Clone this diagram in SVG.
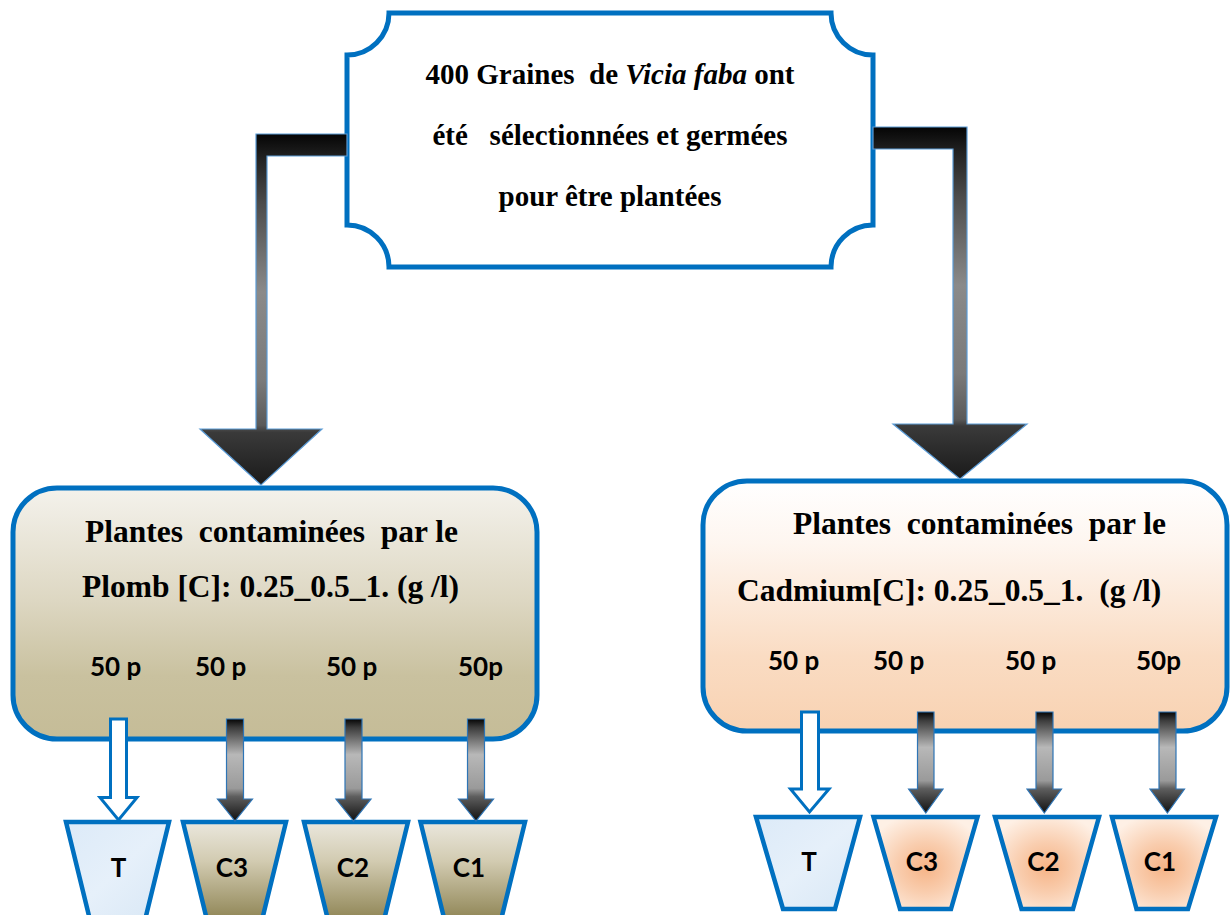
<svg xmlns="http://www.w3.org/2000/svg" width="1230" height="915" viewBox="0 0 1230 915">
<defs>
<style>
.serif{font-family:'Liberation Serif','DejaVu Serif',serif;font-weight:700;fill:#000}
.t1{font-size:29px}
.t2{font-size:31.5px}
.sans{font-family:Lato,'Open Sans',sans-serif;font-weight:700;font-size:26px;fill:#000}
.box{stroke:#0070C0;stroke-width:5}
.pot{stroke:#0070C0;stroke-width:4.5;stroke-linejoin:miter}
.big{stroke:#5B9BD5;stroke-width:1.2;fill:url(#gBig)}
.small{stroke:#2E75B6;stroke-width:1.2;fill:url(#gSmall)}
.hollow{fill:#fff;stroke:#0070C0;stroke-width:3}
</style>
<linearGradient id="gPb" x1="0" y1="0" x2="0" y2="1">
<stop offset="0" stop-color="#F4F2EC"/>
<stop offset="0.45" stop-color="#DDD7C2"/>
<stop offset="0.75" stop-color="#C9C19F"/>
<stop offset="1" stop-color="#C5BC97"/>
</linearGradient>
<linearGradient id="gCd" x1="0" y1="0" x2="0" y2="1">
<stop offset="0" stop-color="#FFFFFF"/>
<stop offset="0.25" stop-color="#FEF6F0"/>
<stop offset="0.7" stop-color="#FADCC3"/>
<stop offset="1" stop-color="#F8D2B2"/>
</linearGradient>
<linearGradient id="gPotPb" x1="0" y1="0" x2="0" y2="1">
<stop offset="0" stop-color="#EAE7DD"/>
<stop offset="0.4" stop-color="#D2CBB1"/>
<stop offset="1" stop-color="#8F8555"/>
</linearGradient>
<radialGradient id="gPotCd" cx="0.5" cy="0.55" r="0.6">
<stop offset="0" stop-color="#F6B487"/>
<stop offset="0.45" stop-color="#F9CDAE"/>
<stop offset="1" stop-color="#FEF0E5"/>
</radialGradient>
<linearGradient id="gT" x1="0" y1="0" x2="1" y2="1">
<stop offset="0" stop-color="#DCEAF8"/>
<stop offset="0.5" stop-color="#E6F0FA"/>
<stop offset="1" stop-color="#D8E7F5"/>
</linearGradient>
<linearGradient id="gBig" x1="0" y1="0" x2="0" y2="1">
<stop offset="0" stop-color="#050505"/>
<stop offset="0.07" stop-color="#222222"/>
<stop offset="0.2" stop-color="#4c4c4c"/>
<stop offset="0.45" stop-color="#8a8a8a"/>
<stop offset="0.7" stop-color="#7a7a7a"/>
<stop offset="0.83" stop-color="#5a5a5a"/>
<stop offset="0.85" stop-color="#3a3a3a"/>
<stop offset="1" stop-color="#1a1a1a"/>
</linearGradient>
<linearGradient id="gSmall" x1="0" y1="0" x2="0" y2="1">
<stop offset="0" stop-color="#050505"/>
<stop offset="0.08" stop-color="#3a3a3a"/>
<stop offset="0.35" stop-color="#b8b8b8"/>
<stop offset="0.68" stop-color="#9a9a9a"/>
<stop offset="0.76" stop-color="#5e5e5e"/>
<stop offset="1" stop-color="#111111"/>
</linearGradient>
</defs>
<rect width="1230" height="915" fill="#fff"/>

<g id="node-top">
<path class="box" fill="#fff" d="M389 13 H831 A42 42 0 0 0 873 55 V225 A42 42 0 0 0 831 267 H389 A42 42 0 0 0 347 225 V55 A42 42 0 0 0 389 13 Z"/>
<text class="serif t1" font-family="Liberation Serif, serif" x="610" y="84" text-anchor="middle" xml:space="preserve">400 Graines  de <tspan font-style="italic">Vicia faba</tspan> ont</text>
<text class="serif t1" font-family="Liberation Serif, serif" x="610" y="145" text-anchor="middle" xml:space="preserve">été   sélectionnées et germées</text>
<text class="serif t1" font-family="Liberation Serif, serif" x="610" y="206" text-anchor="middle">pour être plantées</text>
</g>

<g id="node-plomb">
<rect class="box" x="13" y="488" width="524" height="251" rx="44" fill="url(#gPb)" stroke-width="4"/>
<text class="serif t2" font-family="Liberation Serif, serif" x="85" y="542" xml:space="preserve">Plantes  contaminées  par le</text>
<text class="serif t2" font-family="Liberation Serif, serif" x="82" y="597">Plomb [C]: 0.25_0.5_1. (g /l)</text>
<text class="sans" x="90" y="676">50 p</text>
<text class="sans" x="195" y="676">50 p</text>
<text class="sans" x="326" y="676">50 p</text>
<text class="sans" x="458" y="676">50p</text>
</g>

<g id="node-cadmium">
<rect class="box" x="703" y="481" width="524" height="250" rx="44" fill="url(#gCd)" stroke-width="4"/>
<text class="serif t2" font-family="Liberation Serif, serif" x="793" y="534" xml:space="preserve">Plantes  contaminées  par le</text>
<text class="serif t2" font-family="Liberation Serif, serif" x="737" y="601" xml:space="preserve">Cadmium[C]: 0.25_0.5_1.  (g /l)</text>
<text class="sans" x="768" y="670">50 p</text>
<text class="sans" x="873" y="670">50 p</text>
<text class="sans" x="1005" y="670">50 p</text>
<text class="sans" x="1136" y="670">50p</text>
</g>

<g id="pot-pb-T"><path class="pot" fill="url(#gT)" d="M66 822 H169 L145 920 H90 Z"/><text class="sans" x="118.5" y="877" text-anchor="middle">T</text></g>
<g id="pot-pb-C3"><path class="pot" fill="url(#gPotPb)" d="M183 822 H286 L262 920 H207 Z"/><text class="sans" x="232" y="877" text-anchor="middle">C3</text></g>
<g id="pot-pb-C2"><path class="pot" fill="url(#gPotPb)" d="M304 822 H408 L384 920 H328 Z"/><text class="sans" x="353" y="877" text-anchor="middle">C2</text></g>
<g id="pot-pb-C1"><path class="pot" fill="url(#gPotPb)" d="M420.5 822 H525 L501 920 H444.5 Z"/><text class="sans" x="469" y="877" text-anchor="middle">C1</text></g>

<g id="pot-cd-T"><path class="pot" fill="url(#gT)" d="M756 817 H860 L835 909 H783 Z"/><text class="sans" x="809" y="871" text-anchor="middle">T</text></g>
<g id="pot-cd-C3"><path class="pot" fill="url(#gPotCd)" d="M873.5 817 H977.5 L951 909 H900 Z"/><text class="sans" x="922" y="871" text-anchor="middle">C3</text></g>
<g id="pot-cd-C2"><path class="pot" fill="url(#gPotCd)" d="M995 817 H1099 L1073 909 H1021.5 Z"/><text class="sans" x="1043.5" y="871" text-anchor="middle">C2</text></g>
<g id="pot-cd-C1"><path class="pot" fill="url(#gPotCd)" d="M1112 817 H1216 L1188 909 H1136.5 Z"/><text class="sans" x="1160" y="871" text-anchor="middle">C1</text></g>

<g id="connectors">
<path class="big" d="M347 134 H256 V429 H200 L261 485 L322 429 H267 V156 H347 Z"/>
<path class="big" d="M873 127 H967 V424 H1027 L960 479 L893 424 H953 V149 H873 Z"/>

<path class="hollow" d="M110.5 719 H126.5 V797.5 H137 L118.5 820 L100 797.5 H110.5 Z"/>
<path class="small" d="M226.5 719 H243.5 V799 H252.5 L235 821 L217.5 799 H226.5 Z"/>
<path class="small" d="M345 719 H362 V799 H371 L353.5 821 L336 799 H345 Z"/>
<path class="small" d="M467.5 719 H484.5 V799 H493.5 L476 821 L458.5 799 H467.5 Z"/>

<path class="hollow" d="M801.5 712 H818.5 V789 H829 L809.5 812 L790.5 789 H801.5 Z"/>
<path class="small" d="M917.5 712 H934 V789 H943 L925.8 813 L908.6 789 H917.5 Z"/>
<path class="small" d="M1036 712 H1053 V789 H1061.5 L1044.3 813 L1027 789 H1036 Z"/>
<path class="small" d="M1159 712 H1176 V789 H1184.5 L1167.4 813 L1150 789 H1159 Z"/>
</g>
</svg>
